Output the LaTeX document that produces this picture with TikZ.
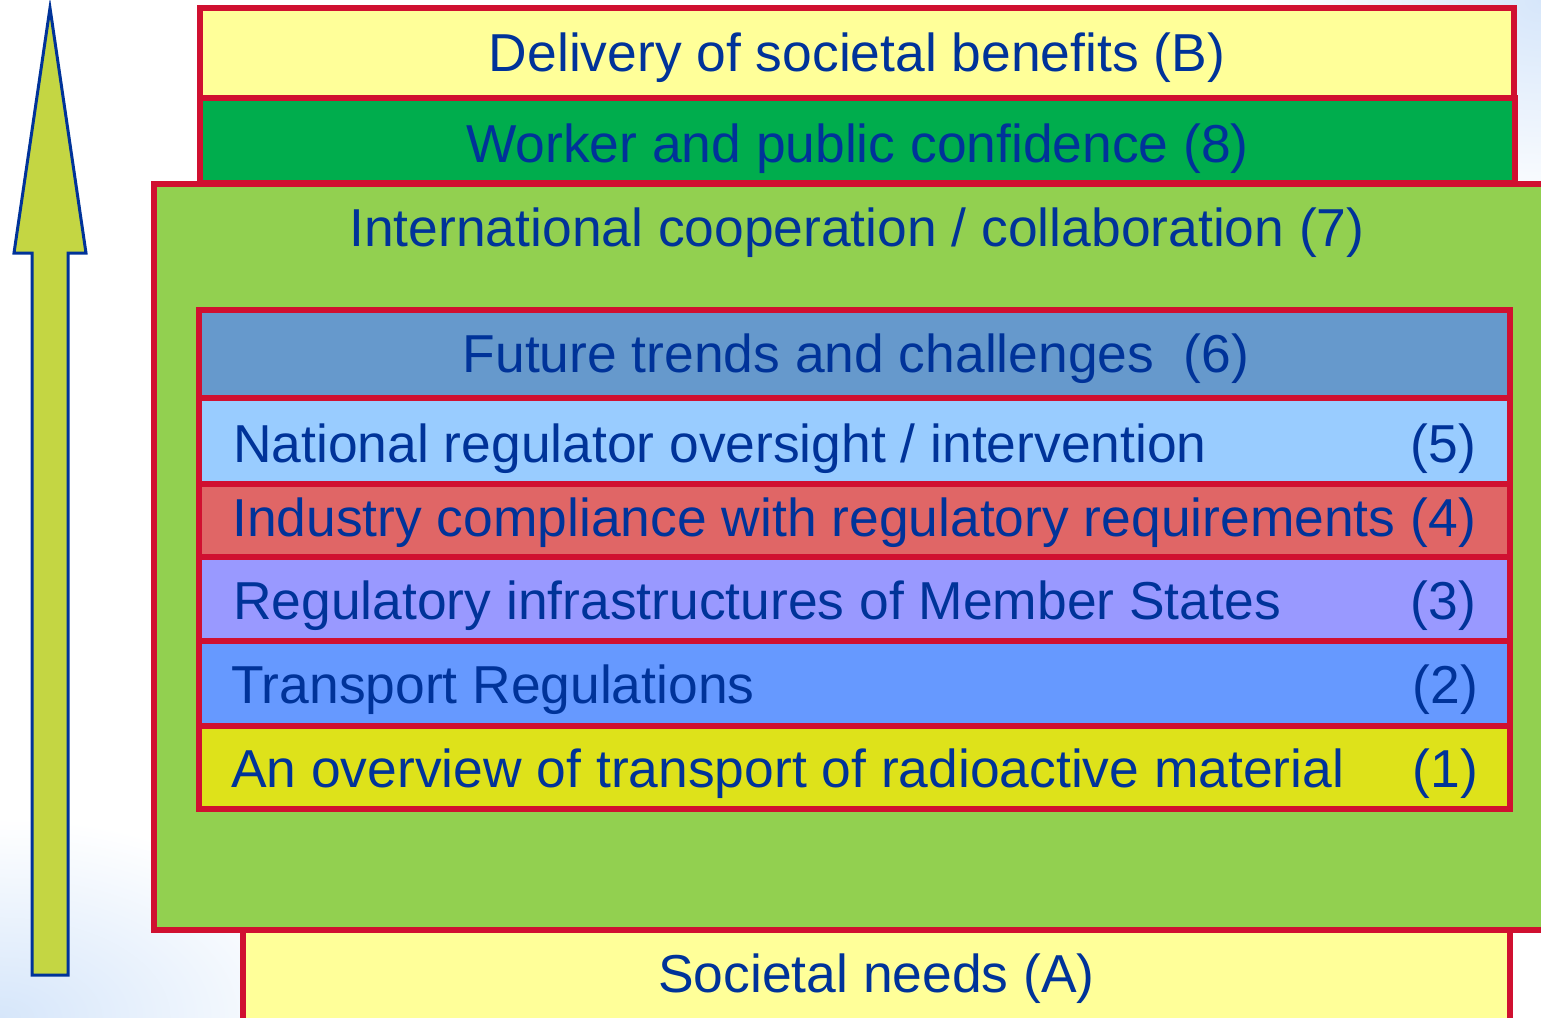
\documentclass[tikz,border=0pt]{standalone}
\usepackage{fontspec}
\setmainfont{Liberation Sans}
\definecolor{bord}{HTML}{D01030}
\definecolor{txt}{HTML}{003399}
\definecolor{fB}{HTML}{FFFF99}
\definecolor{fEight}{HTML}{00AD4D}
\definecolor{fSeven}{HTML}{92D050}
\definecolor{fSix}{HTML}{6699CC}
\definecolor{fFive}{HTML}{99CCFF}
\definecolor{fFour}{HTML}{E06666}
\definecolor{fThree}{HTML}{9999FF}
\definecolor{fTwo}{HTML}{6699FF}
\definecolor{fOne}{HTML}{DEE21A}
\definecolor{fArrow}{HTML}{C4D643}
\definecolor{bgblue}{HTML}{D6E6FA}
\tikzset{
  layer/.style={draw=bord, line width=6pt, inner sep=0pt, outer sep=0pt, rectangle},
  lbl/.style={text=txt, inner sep=0pt, font=\fontsize{53.4}{60}\selectfont},
}
\begin{document}
\begin{tikzpicture}[x=1pt,y=-1pt]
\useasboundingbox (0,0) rectangle (1541,1017);
% background
\fill[white] (0,0) rectangle (1541,1017);
\begin{scope}
\clip (0,0) rectangle (1541,1017);
\shade[inner color=bgblue, outer color=white] (1541,0) ellipse [x radius=280, y radius=220];
\shade[inner color=bgblue, outer color=white] (0,1017) ellipse [x radius=340, y radius=200];
\end{scope}
% arrow
\draw[draw=txt, fill=fArrow, line width=3pt, line join=miter]
  (50,8) -- (86,253) -- (68,253) -- (68,975) -- (32,975) -- (32,253) -- (14,253) -- cycle;
% outer layers
\node[layer, fill=fSeven, minimum width=1460, minimum height=746] (L7) at (884,557) {};
\node[layer, fill=fB, minimum width=1267, minimum height=120] (LA) at (876.5,990) {};
\node[layer, fill=fB, minimum width=1314, minimum height=90] (LB) at (857,53) {};
\node[layer, fill=fEight, minimum width=1315, minimum height=85] (L8) at (857.5,140.5) {};
% inner layers
\node[layer, fill=fSix, minimum width=1311, minimum height=88] (L6) at (854.5,354) {};
\node[layer, fill=fFive, minimum width=1311, minimum height=86] (L5) at (854.5,441) {};
\node[layer, fill=fFour, minimum width=1311, minimum height=73] (L4) at (854.5,520.5) {};
\node[layer, fill=fThree, minimum width=1311, minimum height=84] (L3) at (854.5,599) {};
\node[layer, fill=fTwo, minimum width=1311, minimum height=85] (L2) at (854.5,683.5) {};
\node[layer, fill=fOne, minimum width=1311, minimum height=83] (L1) at (854.5,767) {};
% texts
\node[lbl, anchor=base] (tB) at (857,71) {Delivery of societal benefits (B)};
\node[lbl, anchor=base] (t8) at (857.5,162) {Worker and public confidence (8)};
\node[lbl, anchor=base] (t7) at (857,246) {International cooperation / collaboration (7)};
\node[lbl, anchor=base] (t6) at (856,372) {Future trends and challenges\ \ (6)};
\node[lbl, anchor=base west] (t5) at (233,462) {National regulator oversight / intervention};
\node[lbl, anchor=base east] (n5) at (1476,462) {(5)};
\node[lbl, anchor=base west] (t4) at (232,536) {Industry compliance with regulatory requirements};
\node[lbl, anchor=base east] (n4) at (1476,536) {(4)};
\node[lbl, anchor=base west] (t3) at (233,619) {Regulatory infrastructures of Member States};
\node[lbl, anchor=base east] (n3) at (1476,619) {(3)};
\node[lbl, anchor=base west] (t2) at (231,703) {Transport Regulations};
\node[lbl, anchor=base east] (n2) at (1478,703) {(2)};
\node[lbl, anchor=base west] (t1) at (231,787) {An overview of transport of radioactive material};
\node[lbl, anchor=base east] (n1) at (1478,787) {(1)};
\node[lbl, anchor=base] (tA) at (876.5,992) {Societal needs (A)};
\end{tikzpicture}
\end{document}
